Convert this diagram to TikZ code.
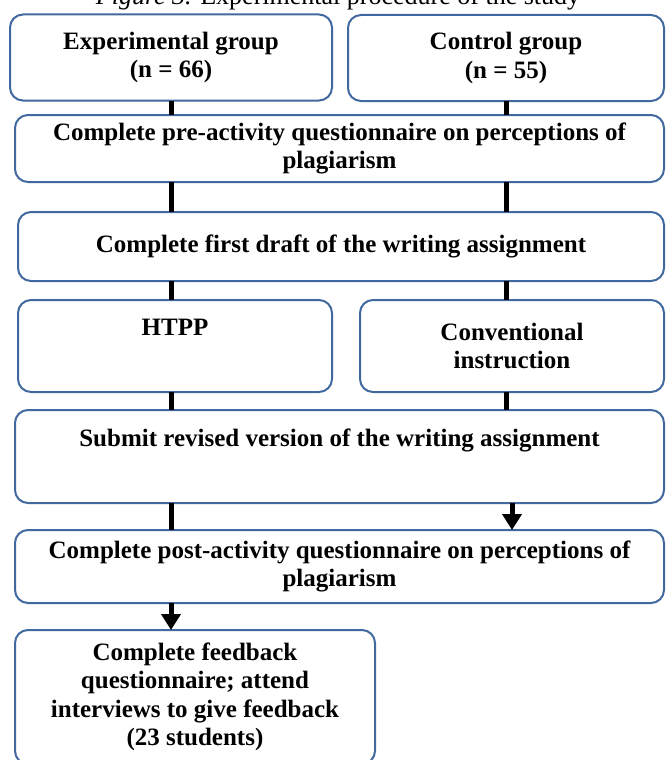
\documentclass[tikz,border=0pt]{standalone}
\usepackage{fontspec}
\setmainfont{Liberation Serif}
\usetikzlibrary{arrows.meta}
\definecolor{boxblue}{RGB}{65,105,160}

\begin{document}
\begin{tikzpicture}
[
    x=1pt, y=-1pt,
    box/.style={draw=boxblue, line width=2pt, rounded corners=13pt, align=center,
        inner sep=2pt, outer sep=0pt, font=\bfseries\fontsize{25}{28.5}\selectfont},
    link/.style={line width=5pt},
    arrow/.style={line width=5pt, -{Triangle[length=16pt, width=19pt]}},
]
\useasboundingbox (0,0) rectangle (665,760);
\node [anchor=base, font=\fontsize{26}{30}\selectfont] (title) at (338,5)
{\textit{Figure 3.} Experimental procedure of the study};
\node [box, minimum width=322pt, minimum height=86pt] (exp) at (171,57.5)
{Experimental group\\(n = 66)};
\node [box, minimum width=316pt, minimum height=86pt] (ctrl) at (506,58)
{Control group\\(n = 55)};
\node [box, minimum width=649pt, minimum height=67pt] (pre) at (339.5,148.5)
{Complete pre-activity questionnaire on perceptions of\\plagiarism};
\node [box, minimum width=646pt, minimum height=69pt] (draft) at (341,246.5)
{Complete first draft of the writing assignment};
\node [box, minimum width=314pt, minimum height=92pt] (htpp) at (175,346)
{HTPP\\\strut};
\node [box, minimum width=304pt, minimum height=92pt] (conv) at (512,346)
{Conventional\\instruction};
\node [box, minimum width=649pt, minimum height=93pt] (submit) at (339.5,456.5)
{Submit revised version of the writing assignment\\\strut};
\node [box, minimum width=649pt, minimum height=73pt] (post) at (339.5,566.5)
{Complete post-activity questionnaire on perceptions of\\plagiarism};
\node [box, minimum width=360pt, minimum height=134pt] (feed) at (195,697)
{Complete feedback\\questionnaire; attend\\interviews to give feedback\\(23 students)};

\draw [link] (exp) -- (pre.north -| exp);
\draw [link] (ctrl) -- (pre.north -| ctrl);
\draw [link] (pre.south -| exp) -- (draft.north -| exp);
\draw [link] (pre.south -| ctrl) -- (draft.north -| ctrl);
\draw [link] (draft.south -| exp) -- (htpp.north -| exp);
\draw [link] (draft.south -| ctrl) -- (conv.north -| ctrl);
\draw [link] (htpp.south -| exp) -- (submit.north -| exp);
\draw [link] (conv.south -| ctrl) -- (submit.north -| ctrl);
\draw [link] (submit.south -| exp) -- (post.north -| exp);
\draw [arrow] (submit.south -| conv) -- (post.north -| conv);
\draw [arrow] (post.south -| exp) -- (feed.north -| exp);
\end{tikzpicture}
\end{document}
